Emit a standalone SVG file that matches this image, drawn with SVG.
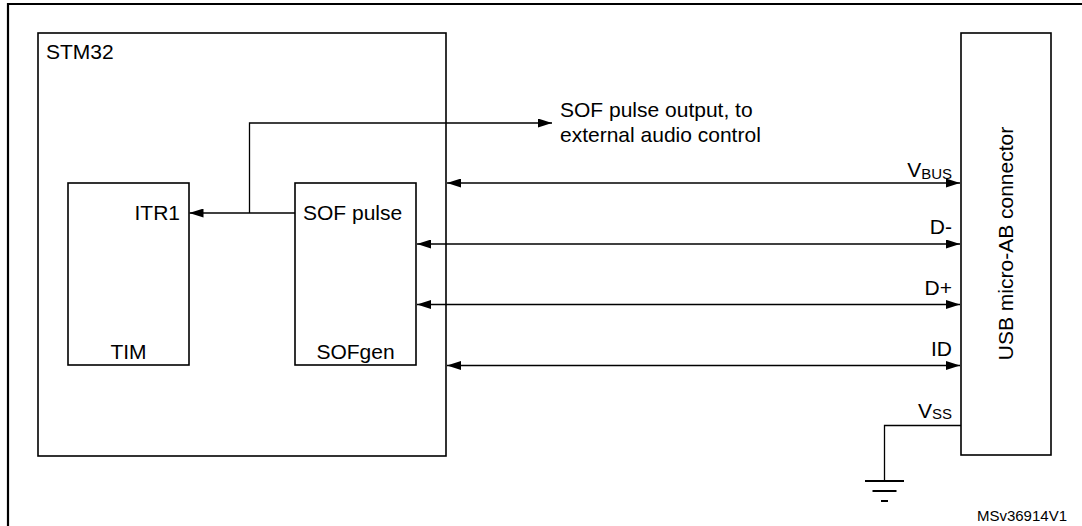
<svg xmlns="http://www.w3.org/2000/svg" width="1082" height="526" viewBox="0 0 1082 526">
<style>
text{font-family:"Liberation Sans",Arial,sans-serif;font-size:21px;fill:#000}
.box{fill:#fff;stroke:#000;stroke-width:1.6}
.ln{fill:none;stroke:#000;stroke-width:1.3}
.sub{font-size:15px}
</style>
<defs>
<marker id="ah" viewBox="0 0 14 9" refX="14" refY="4.5" markerWidth="14" markerHeight="9" markerUnits="userSpaceOnUse" orient="auto-start-reverse">
<path d="M0,0 L14,4.5 L0,9 Z" fill="#000"/>
</marker>
</defs>
<rect width="1082" height="526" fill="#fff"/>
<path d="M8,526 V4 H1082" fill="none" stroke="#000" stroke-width="2.2"/>
<g id="stm32">
<rect class="box" x="38" y="33" width="408" height="423"/>
<text x="46" y="59">STM32</text>
</g>
<g id="tim">
<rect class="box" x="68" y="183" width="121" height="182"/>
<text x="180" y="220" text-anchor="end">ITR1</text>
<text x="128.5" y="359" text-anchor="middle">TIM</text>
</g>
<g id="sofgen">
<rect class="box" x="295" y="183" width="121" height="182"/>
<text x="303" y="220">SOF pulse</text>
<text x="355.5" y="359" text-anchor="middle">SOFgen</text>
</g>
<g id="usb">
<rect class="box" x="961" y="33" width="90" height="422"/>
<text transform="translate(1013,243.5) rotate(-90)" text-anchor="middle">USB micro-AB connector</text>
</g>
<g id="connectors">
<path class="ln" d="M295,213 H189.5" marker-end="url(#ah)"/>
<path class="ln" d="M249.5,213 V123 H552" marker-end="url(#ah)"/>
<path class="ln" d="M447,183 H960" marker-start="url(#ah)" marker-end="url(#ah)"/>
<path class="ln" d="M417,244 H960" marker-start="url(#ah)" marker-end="url(#ah)"/>
<path class="ln" d="M417,304.5 H960" marker-start="url(#ah)" marker-end="url(#ah)"/>
<path class="ln" d="M447,365.5 H960" marker-start="url(#ah)" marker-end="url(#ah)"/>
<path class="ln" d="M961,425.5 H884.5 V481"/>
<path d="M865,481 H904 M872.5,491 H896.5 M881,501 H888" fill="none" stroke="#000" stroke-width="2.2"/>
</g>
<g id="labels">
<text x="560" y="117">SOF pulse output, to</text>
<text x="560" y="142">external audio control</text>
<text x="952" y="176.5" text-anchor="end">V<tspan class="sub" dy="2">BUS</tspan></text>
<text x="952" y="234" text-anchor="end">D-</text>
<text x="952" y="295" text-anchor="end">D+</text>
<text x="952" y="356" text-anchor="end">ID</text>
<text x="952" y="418" text-anchor="end">V<tspan class="sub" dy="1">SS</tspan></text>
<text x="1067" y="521" text-anchor="end" style="font-size:15px">MSv36914V1</text>
</g>
</svg>
